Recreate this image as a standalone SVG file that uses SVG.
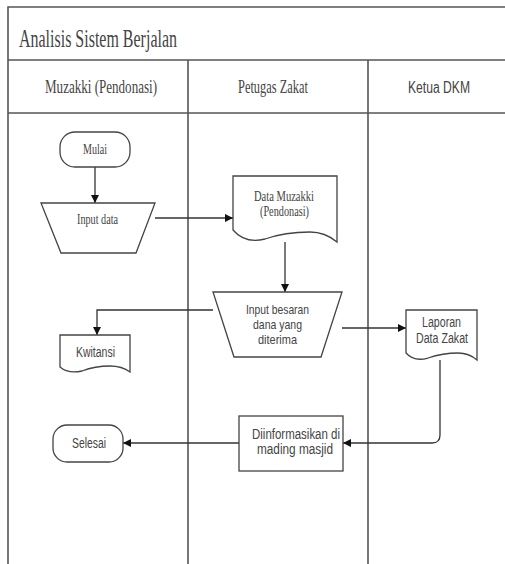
<svg xmlns="http://www.w3.org/2000/svg" width="505" height="564" viewBox="0 0 505 564">
<defs>
<style>
.frame{stroke:#555;stroke-width:1.6;fill:none}
.shape{fill:#fff;stroke:#444;stroke-width:1.3}
.conn{fill:none;stroke:#333;stroke-width:1.3}
.serif{font-family:"Liberation Serif","DejaVu Serif",serif;fill:#444}
.sans{font-family:"Liberation Sans","DejaVu Sans",sans-serif;fill:#444}
</style>
<marker id="arr" viewBox="0 0 10 10" refX="10" refY="5" markerWidth="8" markerHeight="8" markerUnits="userSpaceOnUse" orient="auto">
<path d="M0,0 L10,5 L0,10 Z" fill="#111"/>
</marker>
</defs>
<rect width="505" height="564" fill="#fff"/>
<g id="pool">
<path class="frame" d="M8,564 V7 H505 M8,60 H505 M8,113 H505 M188,60 V564 M368,60 V564"/>
<text class="serif" x="19" y="47" font-size="25" textLength="158" lengthAdjust="spacingAndGlyphs">Analisis Sistem Berjalan</text>
<text class="serif" x="45" y="93" font-size="18" textLength="112" lengthAdjust="spacingAndGlyphs">Muzakki (Pendonasi)</text>
<text class="serif" x="238" y="93" font-size="18" textLength="70" lengthAdjust="spacingAndGlyphs">Petugas Zakat</text>
<text class="sans" x="408" y="93" font-size="16" textLength="62" lengthAdjust="spacingAndGlyphs">Ketua DKM</text>
</g>
<g id="connectors">
<path class="conn" d="M95,167 V203" marker-end="url(#arr)"/>
<path class="conn" d="M155,218 H233" marker-end="url(#arr)"/>
<path class="conn" d="M285,242 V292" marker-end="url(#arr)"/>
<path class="conn" d="M213,310 H97 V335" marker-end="url(#arr)"/>
<path class="conn" d="M342,328 H406" marker-end="url(#arr)"/>
<path class="conn" d="M440,360 V435 Q440,443 432,443 H343" marker-end="url(#arr)"/>
<path class="conn" d="M239,443 H123" marker-end="url(#arr)"/>
</g>
<g id="mulai">
<rect class="shape" x="60" y="132" width="70" height="35" rx="15"/>
<text class="serif" x="83" y="154" font-size="15" textLength="24" lengthAdjust="spacingAndGlyphs">Mulai</text>
</g>
<g id="input-data">
<path class="shape" d="M41,203 H155 L136,253 H61 Z"/>
<text class="serif" x="77" y="224" font-size="15" textLength="41" lengthAdjust="spacingAndGlyphs">Input data</text>
</g>
<g id="data-muzakki">
<path class="shape" d="M233,176 H337 V242 Q325,232 310,232 Q285,232 265,239 Q245,244 233,230 Z"/>
<text class="serif" x="254" y="201" font-size="15" textLength="60" lengthAdjust="spacingAndGlyphs">Data Muzakki</text>
<text class="serif" x="260" y="216" font-size="15" textLength="49" lengthAdjust="spacingAndGlyphs">(Pendonasi)</text>
</g>
<g id="input-besaran">
<path class="shape" d="M213,292 H342 L321,357 H234 Z"/>
<text class="sans" x="246" y="314" font-size="13" textLength="63" lengthAdjust="spacingAndGlyphs">Input besaran</text>
<text class="sans" x="253" y="329" font-size="13" textLength="49" lengthAdjust="spacingAndGlyphs">dana yang</text>
<text class="sans" x="258" y="344" font-size="13" textLength="39" lengthAdjust="spacingAndGlyphs">diterima</text>
</g>
<g id="kwitansi">
<path class="shape" d="M60,335 H130 V372 Q122,366 110,366 Q95,366 82,371 Q68,374 60,367 Z"/>
<text class="sans" x="76" y="357" font-size="14" textLength="39" lengthAdjust="spacingAndGlyphs">Kwitansi</text>
</g>
<g id="laporan">
<path class="shape" d="M406,310 H477 V360 Q469,353 458,353 Q443,353 428,358 Q414,362 406,353 Z"/>
<text class="sans" x="422" y="327" font-size="14" textLength="39" lengthAdjust="spacingAndGlyphs">Laporan</text>
<text class="sans" x="416" y="343" font-size="14" textLength="52" lengthAdjust="spacingAndGlyphs">Data Zakat</text>
</g>
<g id="diinformasikan">
<rect class="shape" x="239" y="416" width="104" height="55"/>
<text class="sans" x="252" y="439" font-size="14" textLength="88" lengthAdjust="spacingAndGlyphs">Diinformasikan di</text>
<text class="sans" x="257" y="454" font-size="14" textLength="76" lengthAdjust="spacingAndGlyphs">mading masjid</text>
</g>
<g id="selesai">
<rect class="shape" x="53" y="425" width="70" height="37" rx="14"/>
<text class="sans" x="72" y="448" font-size="14" textLength="34" lengthAdjust="spacingAndGlyphs">Selesai</text>
</g>
</svg>
